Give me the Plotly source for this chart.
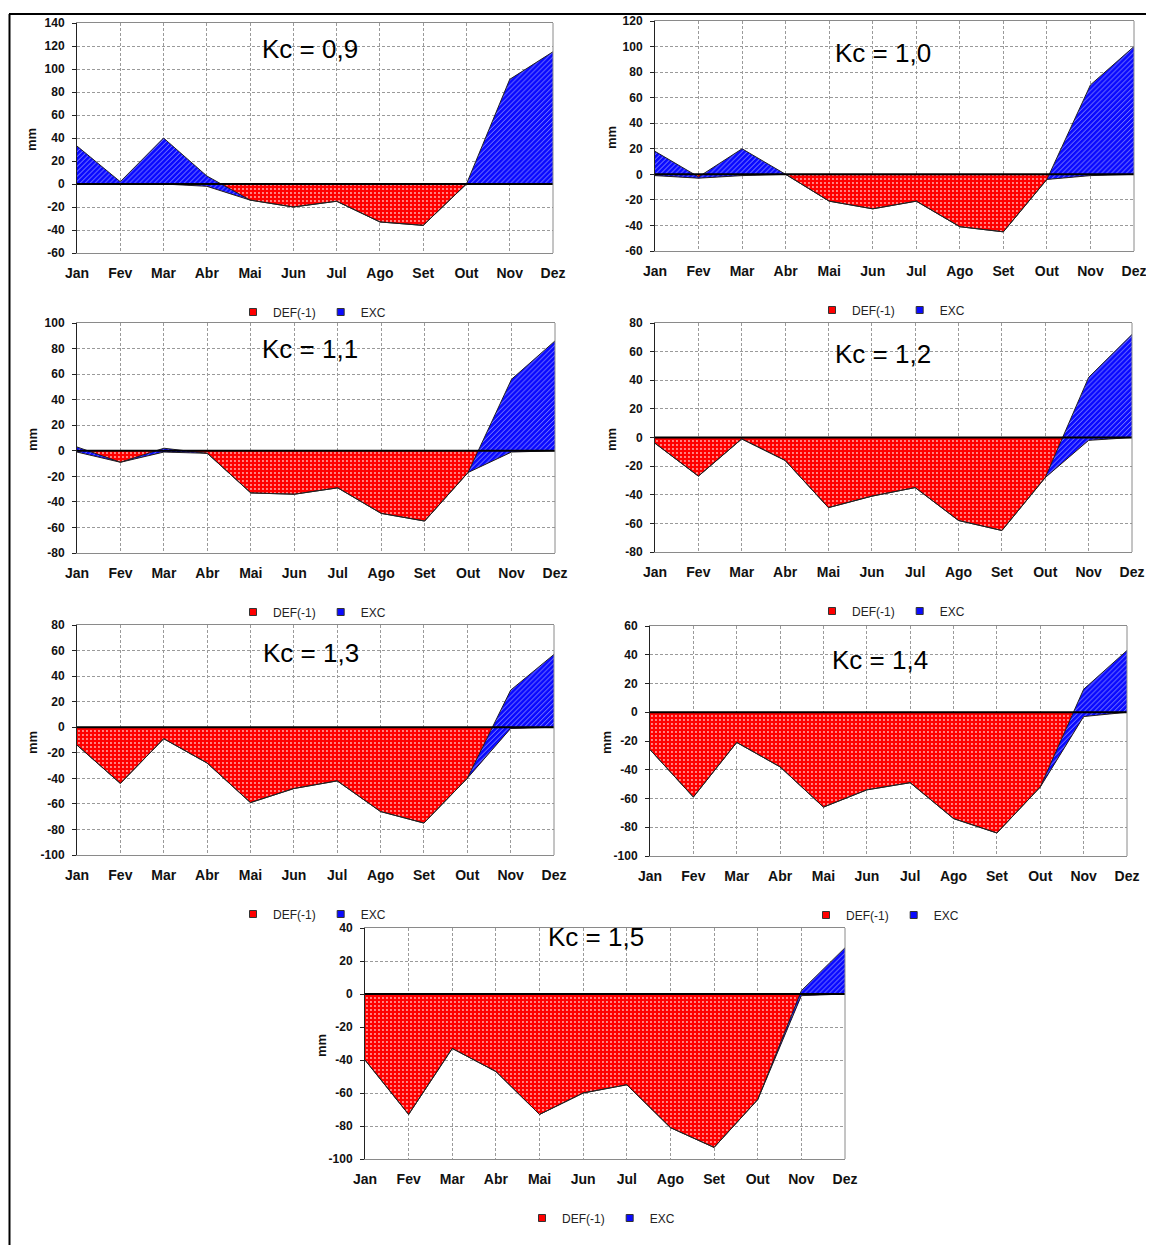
import plotly.graph_objects as go

months = ["Jan", "Fev", "Mar", "Abr", "Mai", "Jun", "Jul", "Ago", "Set", "Out", "Nov", "Dez"]

# DEF(-1) (negative deficits) and EXC (surpluses), mm, one pair per Kc
def_09 = [0, 0, 0, -2, -14, -20, -15, -33, -36, 0, 0, 0]
exc_09 = [33, 2, 40, 9, 0, 0, 0, 0, 0, 0, 91, 115]

def_10 = [-1, -3, -1, 0, -21, -27, -21, -41, -45, -4, -1, 0]
exc_10 = [19, 1, 21, 0, 0, 0, 0, 0, 0, 0, 71, 100]

def_11 = [-1, -9, -1, -2, -33, -34, -29, -49, -55, -17, -1, 0]
exc_11 = [4, 0, 3, 0, 0, 0, 0, 0, 0, 0, 57, 86]

def_12 = [-4, -27, -1, -16, -49, -41, -35, -58, -65, -28, -2, 0]
exc_12 = [0, 0, 0, 0, 0, 0, 0, 0, 0, 0, 44, 72]

def_13 = [-14, -44, -9, -28, -59, -48, -42, -66, -75, -40, -1, 0]
exc_13 = [0, 0, 0, 0, 0, 0, 0, 0, 0, 0, 30, 57]

def_14 = [-26, -59, -21, -38, -66, -54, -49, -74, -84, -52, -3, 0]
exc_14 = [0, 0, 0, 0, 0, 0, 0, 0, 0, 0, 19, 43]

def_15 = [-40, -73, -33, -47, -73, -60, -55, -81, -93, -64, -1, 0]
exc_15 = [0, 0, 0, 0, 0, 0, 0, 0, 0, 0, 3, 28]

kc_labels = ["Kc = 0,9", "Kc = 1,0", "Kc = 1,1", "Kc = 1,2", "Kc = 1,3", "Kc = 1,4", "Kc = 1,5"]
series_names = ["DEF(-1)", "EXC"]
y_title = "mm"

FONT = "Liberation Sans, Arial, sans-serif"
W, H, OFF = 1138, 1237, 8


def px(x):
    return (x - OFF) / W


def py(y):
    return 1 - (y - OFF) / H


panels = [
    dict(d=def_09, e=exc_09, box=(77, 553, 23, 253), yr=(-60, 140), kc=(310, 49), mm=(32, 140), leg=(312, 312)),
    dict(d=def_10, e=exc_10, box=(655, 1134, 21, 251), yr=(-60, 120), kc=(883, 53), mm=(611, 138), leg=(891, 310)),
    dict(d=def_11, e=exc_11, box=(77, 555, 323, 553), yr=(-80, 100), kc=(310, 349), mm=(32, 440), leg=(312, 612)),
    dict(d=def_12, e=exc_12, box=(655, 1132, 323, 552), yr=(-80, 80), kc=(883, 354), mm=(611, 440), leg=(891, 611)),
    dict(d=def_13, e=exc_13, box=(77, 554, 625, 855), yr=(-100, 80), kc=(311, 653), mm=(32, 743), leg=(312, 914)),
    dict(d=def_14, e=exc_14, box=(650, 1127, 626, 856), yr=(-100, 60), kc=(880, 660), mm=(606, 743), leg=(885, 915)),
    dict(d=def_15, e=exc_15, box=(365, 845, 928, 1159), yr=(-100, 40), kc=(596, 937), mm=(321, 1046), leg=(601, 1218)),
]

red_pattern = dict(shape=".", fgcolor="white", bgcolor="#ff0000", size=4, solidity=0.18, fgopacity=0.7)
blue_pattern = dict(shape="/", fgcolor="white", bgcolor="#0a0aff", size=3.5, solidity=0.2, fgopacity=0.75)

fig = go.Figure()
shapes = []
annotations = []
layout_extra = {}

for i, p in enumerate(panels, start=1):
    sfx = "" if i == 1 else str(i)
    xa, ya = "x" + sfx, "y" + sfx
    leg = "legend" + sfx
    fig.add_trace(go.Scatter(
        x=months, y=p["d"], name=series_names[0], stackgroup="s" + str(i), mode="lines",
        line=dict(color="#222222", width=1), fillcolor="#ff0000", fillpattern=red_pattern,
        xaxis=xa, yaxis=ya, showlegend=False, hoverinfo="skip"))
    fig.add_trace(go.Scatter(
        x=months, y=p["e"], name=series_names[1], stackgroup="s" + str(i), mode="lines",
        line=dict(color="#222222", width=1), fillcolor="#0a0aff", fillpattern=blue_pattern,
        xaxis=xa, yaxis=ya, showlegend=False, hoverinfo="skip"))
    # legend entries
    fig.add_trace(go.Scatter(
        x=[None], y=[None], mode="markers", name=series_names[0], legend=leg,
        marker=dict(symbol="square", size=7, color="#ff0000", line=dict(color="#333333", width=1)),
        xaxis=xa, yaxis=ya))
    fig.add_trace(go.Scatter(
        x=[None], y=[None], mode="markers", name=series_names[1], legend=leg,
        marker=dict(symbol="square", size=7, color="#0a0aff", line=dict(color="#333333", width=1)),
        xaxis=xa, yaxis=ya))

    x0, x1, y0, y1 = p["box"]
    lo, hi = p["yr"]
    tickvals = list(range(lo, hi + 1, 20))
    layout_extra["xaxis" + sfx] = dict(
        domain=[px(x0), px(x1)], anchor=ya, type="category", range=[0, 11],
        categoryorder="array", categoryarray=months, automargin=False,
        showgrid=True, gridcolor="#9a9a9a", griddash="3px,2px", gridwidth=1,
        showline=True, linecolor="#8a8a8a", linewidth=1, mirror=True,
        ticks="outside", ticklen=7, tickcolor="rgba(0,0,0,0)",
        tickfont=dict(family=FONT, size=14, color="#111111", weight="bold"),
        fixedrange=True, zeroline=False)
    layout_extra["yaxis" + sfx] = dict(
        domain=[py(y1), py(y0)], anchor=xa, range=[lo, hi], automargin=False,
        tickmode="array", tickvals=tickvals, ticktext=[str(v) for v in tickvals],
        showgrid=True, gridcolor="#9a9a9a", griddash="3px,2px", gridwidth=1,
        showline=True, linecolor="#222222", linewidth=1, mirror=False,
        ticks="outside", ticklen=4, tickcolor="#222222", ticklabelstandoff=5,
        tickfont=dict(family=FONT, size=12, color="#111111", weight="bold"),
        zeroline=False, fixedrange=True)
    layout_extra[leg] = dict(
        orientation="h", x=px(p["leg"][0]), y=py(p["leg"][1]), xanchor="center", yanchor="middle",
        xref="paper", yref="paper", bgcolor="rgba(0,0,0,0)", traceorder="normal",
        font=dict(family=FONT, size=12, color="#222222"), itemwidth=30, tracegroupgap=0)

    shapes.append(dict(type="line", xref=xa + " domain", yref=ya, x0=0, x1=1, y0=0, y1=0,
                       line=dict(color="black", width=2), layer="above"))
    shapes.append(dict(type="line", xref=xa + " domain", yref=ya + " domain", x0=1, x1=1, y0=0, y1=1,
                       line=dict(color="#8a8a8a", width=1), layer="above"))

    annotations.append(dict(text=kc_labels[i - 1], xref="paper", yref="paper",
                            x=px(p["kc"][0]), y=py(p["kc"][1]), xanchor="center", yanchor="middle",
                            showarrow=False, font=dict(family=FONT, size=26, color="#000000")))
    annotations.append(dict(text=y_title, xref="paper", yref="paper",
                            x=px(p["mm"][0]), y=py(p["mm"][1]), xanchor="center", yanchor="middle",
                            textangle=-90, showarrow=False,
                            font=dict(family=FONT, size=13, color="#111111", weight="bold")))

# page frame lines
shapes.append(dict(type="line", xref="paper", yref="paper", x0=px(9.5), x1=px(9.5), y0=py(14), y1=py(1253),
                   line=dict(color="black", width=2)))
shapes.append(dict(type="line", xref="paper", yref="paper", x0=px(9), x1=px(1154), y0=py(14), y1=py(14),
                   line=dict(color="black", width=2)))

fig.update_layout(
    width=W, height=H, margin=dict(l=0, r=0, t=0, b=0, autoexpand=False),
    paper_bgcolor="white", plot_bgcolor="white",
    font=dict(family=FONT, color="#111111"),
    shapes=shapes, annotations=annotations, hovermode=False,
    **layout_extra)

fig.write_html("out.html")
